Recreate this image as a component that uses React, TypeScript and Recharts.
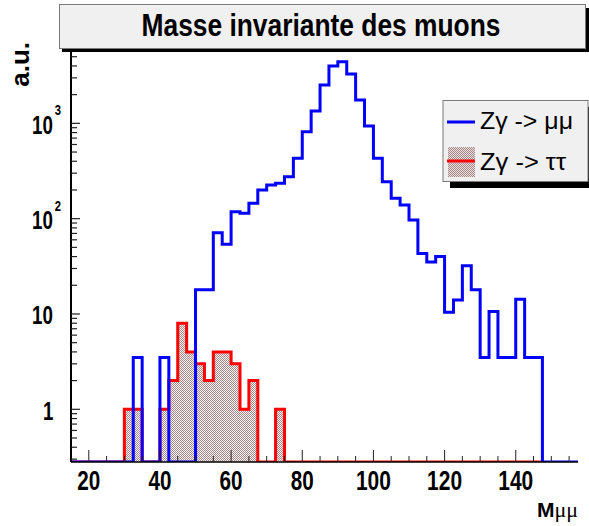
import { ComposedChart, Line, Area, XAxis, YAxis } from 'recharts'

// bin edges in GeV (lower edges + final upper edge)
const binEdges = [
  15, 17.5, 20, 22.5, 25, 27.5, 30, 32.5, 35, 37.5, 40, 42.5, 45, 47.5, 50, 52.5, 55, 57.5, 60, 62.5,
  65, 67.5, 70, 72.5, 75, 77.5, 80, 82.5, 85, 87.5, 90, 92.5, 95, 97.5, 100, 102.5, 105, 107.5, 110,
  112.5, 115, 117.5, 120, 122.5, 125, 127.5, 130, 132.5, 135, 137.5, 140, 142.5, 145, 147.5, 150,
  152.5, 155, 157.5,
]

// Z/gamma -> mu mu
const muMuCounts = [
  0, 0, 0, 0, 0, 0, 0, 3.5, 0, 0, 3.5, 0, 0, 0, 18, 18, 71, 54, 118, 114, 145, 200, 226, 235, 276,
  430, 818, 1350, 2530, 4000, 4440, 3300, 1760, 940, 430, 244, 164, 139, 97, 43, 35, 40, 10.4, 14,
  32, 18, 3.5, 10.6, 3.5, 3.5, 14.3, 3.5, 3.5, 0, 0, 0, 0,
]

// Z/gamma -> tau tau (histogram stops at 147.5)
const tauTauCounts = [
  0, 0, 0, 0, 0, 0, 1, 1, 0, 0, 1, 2, 8, 4, 3, 2, 4, 4, 3, 1, 2, 0, 0, 1, 0, 0, 0, 0, 0, 0, 0, 0,
  0, 0, 0, 0, 0, 0, 0, 0, 0, 0, 0, 0, 0, 0, 0, 0, 0, 0, 0, 0, 0,
]

const xTicks = [20, 25, 30, 35, 40, 45, 50, 55, 60, 65, 70, 75, 80, 85, 90, 95, 100, 105, 110, 115, 120, 125, 130, 135, 140, 145, 150, 155]
const xLabelTicks = [20, 40, 60, 80, 100, 120, 140]

const yTicks = [
  0.3, 0.4, 0.5, 0.6, 0.7, 0.8, 0.9, 1, 2, 3, 4, 5, 6, 7, 8, 9, 10, 20, 30, 40, 50, 60, 70, 80, 90,
  100, 200, 300, 400, 500, 600, 700, 800, 900, 1000, 2000, 3000, 4000, 5000,
]
const yMajorTicks = [1, 10, 100, 1000]
const yMajorBase = ['1', '10', '10', '10']
const yMajorExp = ['', '', '2', '3']

const yMin = 0.28
const yMax = 5880

const FONT = '"Liberation Sans", Arial, Helvetica, sans-serif'
const SERIF = '"Liberation Serif", "Times New Roman", serif'
const TAU_DOT = '#a68888'

const data = binEdges.map((edge, i) => {
  const mu = i < muMuCounts.length ? muMuCounts[i] : muMuCounts[muMuCounts.length - 1]
  let tau: number | null = null
  if (i < tauTauCounts.length) tau = tauTauCounts[i]
  else if (i === tauTauCounts.length) tau = tauTauCounts[tauTauCounts.length - 1]
  return {
    m: edge,
    mumu: Math.max(mu, yMin),
    tautau: tau === null ? null : Math.max(tau, yMin),
  }
})

function XTick(props: any) {
  const { x, y, payload } = props
  const major = xLabelTicks.includes(payload.value)
  const label = String(payload.value)
  return (
    <g>
      <line x1={x} x2={x} y1={y} y2={y - (major ? 12 : 6)} stroke="#222" strokeWidth={1} />
      {major && (
        <text
          x={x}
          y={y + 28}
          textAnchor="middle"
          fontSize={27}
          fontWeight="bold"
          fontFamily={FONT}
          fill="#000"
          textLength={label.length === 2 ? 23 : 35}
          lengthAdjust="spacingAndGlyphs"
        >
          {label}
        </text>
      )}
    </g>
  )
}

function YTick(props: any) {
  const { x, y, payload } = props
  const idx = yMajorTicks.indexOf(payload.value)
  const major = idx >= 0
  const base = major ? yMajorBase[idx] : ''
  const exp = major ? yMajorExp[idx] : ''
  const left = x - 18 - (base.length === 1 ? 10 : 21)
  return (
    <g>
      <line x1={x} x2={x + (major ? 9 : 6)} y1={y} y2={y} stroke="#222" strokeWidth={1.2} />
      {major && (
        <text
          transform={`translate(${left}, ${y + 10.5}) scale(0.75, 1)`}
          fontSize={25}
          fontWeight="bold"
          fontFamily={FONT}
          fill="#000"
        >
          {base}
          {exp && (
            <tspan dx={2.7} dy={-18.5} fontSize={15}>
              {exp}
            </tspan>
          )}
        </text>
      )}
    </g>
  )
}

export default function App() {
  return (
    <div style={{ position: 'absolute', left: 0, top: 0, width: 589, height: 526, background: '#fff' }}>
      <ComposedChart
        width={589}
        height={526}
        data={data}
        margin={{ top: 50, right: 11, bottom: 24, left: 0 }}
      >
        <defs>
          <pattern id="tauFill" width={2} height={2} patternUnits="userSpaceOnUse">
            <rect x={0} y={0} width={1} height={1} fill={TAU_DOT} />
            <rect x={1} y={1} width={1} height={1} fill={TAU_DOT} />
            <rect x={1} y={0} width={1} height={1} fill="#e9dede" fillOpacity={0.6} />
          </pattern>
        </defs>
        <XAxis
          dataKey="m"
          type="number"
          domain={[15, 157.5]}
          ticks={xTicks}
          interval={0}
          allowDataOverflow
          height={40}
          tickSize={0}
          tickMargin={0}
          tickLine={false}
          axisLine={{ stroke: '#000', strokeWidth: 1.5 }}
          tick={<XTick />}
        />
        <YAxis
          yAxisId="left"
          scale="log"
          type="number"
          domain={[yMin, yMax]}
          ticks={yTicks}
          interval={0}
          allowDataOverflow
          width={71}
          tickSize={0}
          tickMargin={0}
          tickLine={false}
          axisLine={{ stroke: '#000', strokeWidth: 2 }}
          tick={<YTick />}
        />
        <YAxis
          yAxisId="right"
          orientation="right"
          scale="log"
          type="number"
          domain={[yMin, yMax]}
          width={0}
          tick={false}
          tickLine={false}
          axisLine={{ stroke: '#7d6868', strokeWidth: 1.5 }}
        />
        <Line
          yAxisId="left"
          type="stepAfter"
          dataKey="mumu"
          stroke="#0000ff"
          strokeWidth={3}
          strokeLinejoin="miter"
          dot={false}
          activeDot={false}
          isAnimationActive={false}
        />
        <Area
          yAxisId="left"
          type="stepAfter"
          dataKey="tautau"
          stroke="#ff0000"
          strokeWidth={3}
          strokeLinejoin="miter"
          fill="url(#tauFill)"
          fillOpacity={1}
          dot={false}
          activeDot={false}
          isAnimationActive={false}
        />
      </ComposedChart>

      <svg
        width={589}
        height={526}
        style={{ position: 'absolute', left: 0, top: 0, pointerEvents: 'none' }}
      >
        <defs>
          <pattern id="tauFillLegend" width={2} height={2} patternUnits="userSpaceOnUse">
            <rect x={0} y={0} width={2} height={2} fill="#e9dede" />
            <rect x={0} y={0} width={1} height={1} fill={TAU_DOT} />
            <rect x={1} y={1} width={1} height={1} fill={TAU_DOT} />
          </pattern>
        </defs>

        {/* title box */}
        <rect x={62} y={8} width={527} height={44} fill="#000" />
        <rect x={59.5} y={4.5} width={526} height={44} fill="#f0f0f0" stroke="#7a7a7a" strokeWidth={1} />
        <text
          x={321}
          y={36}
          textAnchor="middle"
          fontSize={31}
          fontWeight="bold"
          fontFamily={FONT}
          fill="#000"
          textLength={359}
          lengthAdjust="spacingAndGlyphs"
        >
          Masse invariante des muons
        </text>

        {/* legend */}
        <rect x={450} y={107} width={139} height={81} fill="#000" />
        <rect x={443} y={100.5} width={145} height={81} fill="#f0f0f0" stroke="#7a7a7a" strokeWidth={1} />
        <line x1={447} x2={475} y1={122} y2={122} stroke="#0000ff" strokeWidth={3} />
        <text x={480} y={129} fontSize={24} fontFamily={FONT} fill="#000" textLength={93} lengthAdjust="spacingAndGlyphs">
          Zγ -&gt; μμ
        </text>
        <rect x={448} y={147} width={27} height={30} fill="url(#tauFillLegend)" />
        <line x1={447} x2={475} y1={161} y2={161} stroke="#ff0000" strokeWidth={3} />
        <text x={480} y={170} fontSize={24} fontFamily={FONT} fill="#000" textLength={86} lengthAdjust="spacingAndGlyphs">
          Zγ -&gt; ττ
        </text>

        {/* axis titles */}
        <text
          transform="translate(28.5, 42) rotate(-90)"
          textAnchor="end"
          fontSize={26}
          fontWeight="bold"
          fontFamily={FONT}
          fill="#000"
        >
          a.u.
        </text>
        <text x={578} y={517} textAnchor="end" fontSize={21} fontWeight="bold" fontFamily={FONT} fill="#000">
          M
          <tspan fontFamily={SERIF} fontWeight="normal" fontSize={22}>
            μμ
          </tspan>
        </text>
      </svg>
    </div>
  )
}
